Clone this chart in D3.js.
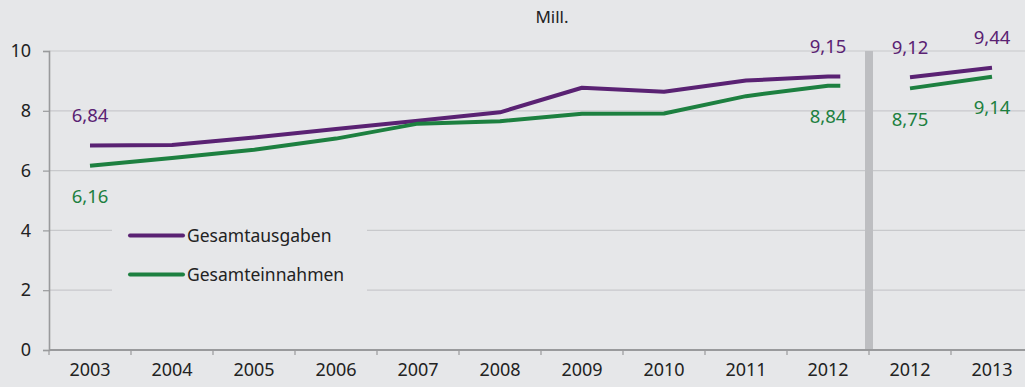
<!DOCTYPE html>
<html><head><meta charset="utf-8">
<script src="https://cdn.jsdelivr.net/npm/d3@7"></script>
<style>
html,body{margin:0;padding:0;background:#e6e7e9;}
svg{display:block;font-family:"Noto Sans",sans-serif;}
</style></head>
<body><svg id="c" width="1025" height="387"></svg>
<script>
const categories = ["2003","2004","2005","2006","2007","2008","2009","2010","2011","2012","2012","2013"];
const ausgaben = [6.84,6.86,7.11,7.39,7.67,7.95,8.77,8.64,9.01,9.15,9.12,9.44];
const einnahmen = [6.16,6.42,6.70,7.07,7.57,7.65,7.90,7.91,8.49,8.84,8.75,9.14];
const labelIdx = [0,9,10,11];           // which points carry value labels
const segments = [[0,9],[10,11]];       // continuous line segments
const yTicks = [0,2,4,6,8,10];
const seriesNames = ["Gesamtausgaben","Gesamteinnahmen"];
const colors = ["#5a2273","#1d8040"];
const unit = "Mill.";

(function(){
const svg = d3.select("#c");
const mLeft = 49, mTop = 51, mBottom = 350, bw = 82;
const fs = 18;
const x = d3.scaleBand().domain(d3.range(categories.length)).range([mLeft, mLeft + bw*categories.length]).padding(0);
const y = d3.scaleLinear().domain([0,10]).range([mBottom, mTop]);
const cx = i => x(i) + x.bandwidth()/2;
const fmt = v => d3.format(".2f")(v).replace(".", ",");

svg.append("rect").attr("width",1025).attr("height",387).attr("fill","#e6e7e9");

// gridlines
svg.append("g").selectAll("line").data(yTicks.filter(t=>t>0)).join("line")
  .attr("x1", mLeft).attr("x2", 1025).attr("y1", d=>y(d)).attr("y2", d=>y(d))
  .attr("stroke","#c8c9cc").attr("stroke-width",1.2);

// separator bar between index 9 and 10
svg.append("rect").attr("x", x(10)-4).attr("width", 8).attr("y", y(10)).attr("height", y(0)-y(10)).attr("fill","#bdbec1");

// y axis
const yAxis = svg.append("g").attr("transform",`translate(${mLeft},0)`)
  .call(d3.axisLeft(y).tickValues(yTicks).tickSize(6).tickPadding(12));
yAxis.select(".domain").attr("stroke","#999a9c").attr("stroke-width",1.6);
yAxis.selectAll(".tick line").attr("stroke","#999a9c").attr("stroke-width",1.2);
yAxis.selectAll("text").attr("font-size",fs).attr("fill","#222").attr("font-family","Noto Sans");

// x axis
const xAxis = svg.append("g").attr("transform",`translate(0,${mBottom})`)
  .call(d3.axisBottom(x).tickFormat(i=>categories[i]).tickSize(0).tickPadding(13));
xAxis.select(".domain").remove();
xAxis.selectAll(".tick line").remove();
xAxis.selectAll("text").attr("font-size",fs).attr("fill","#222").attr("font-family","Noto Sans");
xAxis.append("line").attr("x1",mLeft).attr("x2",1025).attr("stroke","#999a9c").attr("stroke-width",2);
xAxis.selectAll(".bt").data(d3.range(categories.length+1)).join("line").attr("class","bt")
  .attr("x1", i=>mLeft+i*x.bandwidth()).attr("x2", i=>mLeft+i*x.bandwidth())
  .attr("y1",0).attr("y2",5).attr("stroke","#999a9c").attr("stroke-width",1.2);

// legend box (covers gridlines)
const lg = svg.append("g");
lg.append("rect").attr("x",112).attr("y",200).attr("width",255).attr("height",100).attr("fill","#e6e7e9");
seriesNames.forEach((n,k)=>{
  const ly = 235.5 + k*39;
  lg.append("line").attr("x1",130).attr("x2",183).attr("y1",ly).attr("y2",ly)
    .attr("stroke",colors[k]).attr("stroke-width",4).attr("stroke-linecap","round");
  lg.append("text").attr("x",187).attr("y",ly).attr("dy","0.35em").attr("font-size",17.5)
    .attr("fill","#222").text(n);
});

// lines
const line = d3.line().x(d=>d[0]).y(d=>d[1]);
[ausgaben, einnahmen].forEach((vals,k)=>{
  segments.forEach(([a,b],si)=>{
    const pts = d3.range(a,b+1).map(i=>[cx(i), y(vals[i])]);
    if (si===0) pts.push([cx(b)+x.bandwidth()*0.15, y(vals[b])]);
    svg.append("path").attr("d", line(pts)).attr("fill","none")
      .attr("stroke",colors[k]).attr("stroke-width",4).attr("stroke-linejoin","round");
  });
  labelIdx.forEach(i=>{
    svg.append("text").attr("x",cx(i)).attr("y", y(vals[i]) + (k===0?-30:31))
      .attr("dy","0.35em").attr("text-anchor","middle").attr("font-size",fs+0.5)
      .attr("fill",colors[k]).text(fmt(vals[i]));
  });
});

svg.append("text").attr("x",552).attr("y",17).attr("dy","0.35em").attr("text-anchor","middle")
  .attr("font-size",17).attr("fill","#222").text(unit);
})();
</script></body></html>
